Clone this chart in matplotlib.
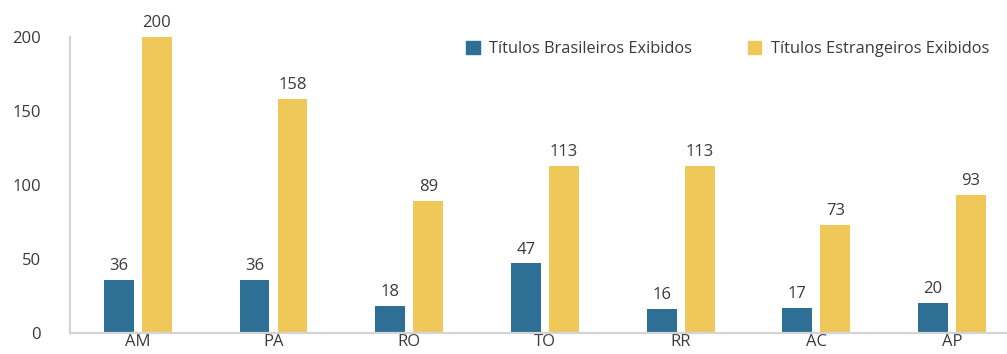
import numpy as np
import matplotlib.pyplot as plt
from matplotlib.patches import Patch

plt.rcParams['font.family'] = ['Open Sans', 'DejaVu Sans']

estados = ['AM', 'PA', 'RO', 'TO', 'RR', 'AC', 'AP']
brasileiros = [36, 36, 18, 47, 16, 17, 20]
estrangeiros = [200, 158, 89, 113, 113, 73, 93]

azul = '#2e7095'
amarelo = '#f0c759'
texto = '#3a3a3a'

fig = plt.figure(figsize=(10.07, 3.54), dpi=100)
ax = fig.add_axes([70 / 1007, 21 / 354, 937 / 1007, 296 / 354])

x = np.arange(len(estados))
w = 0.22
off = 0.14
b1 = ax.bar(x - off, brasileiros, w, color=azul)
b2 = ax.bar(x + off, estrangeiros, w, color=amarelo)

# valores acima de cada barra
for bars, vals in ((b1, brasileiros), (b2, estrangeiros)):
    for r, v in zip(bars, vals):
        ax.text(r.get_x() + r.get_width() / 2, v + 4, str(v),
                ha='center', va='bottom', fontsize=12, color=texto)

ax.set_xlim(-0.5, 6.405)
ax.set_ylim(0, 200)
ax.set_yticks([0, 50, 100, 150, 200])
ax.set_xticks(x)
ax.set_xticklabels(estados)
ax.tick_params(axis='both', length=0, labelsize=12, colors=texto)
ax.tick_params(axis='y', pad=21)
ax.tick_params(axis='x', pad=1)

for s in ['top', 'right']:
    ax.spines[s].set_visible(False)
for s in ['left', 'bottom']:
    ax.spines[s].set_color('#d4d4d4')
    ax.spines[s].set_linewidth(1.6)

handles = [Patch(color=azul, label='Títulos Brasileiros Exibidos'),
           Patch(color=amarelo, label='Títulos Estrangeiros Exibidos')]
ax.legend(handles=handles, loc='upper right', bbox_to_anchor=(0.997, 1.035),
          ncol=2, frameon=False, fontsize=11.8, handlelength=0.8,
          handleheight=0.8, columnspacing=3.4, handletextpad=0.6,
          labelcolor=texto)

fig.savefig('out.png', dpi=100)
